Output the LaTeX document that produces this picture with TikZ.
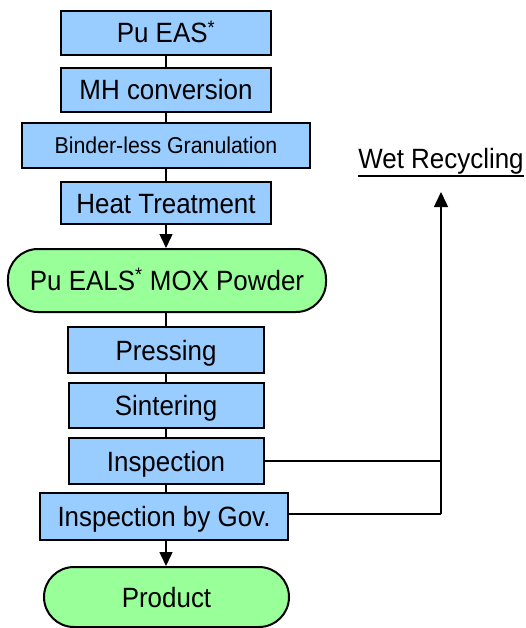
\documentclass[tikz,border=0pt]{standalone}
\usepackage{fontspec}
\setmainfont[FakeStretch=0.93]{Liberation Sans}
\usetikzlibrary{arrows.meta}
\definecolor{boxblue}{HTML}{99CCFF}
\definecolor{boxgreen}{HTML}{99FF99}
\begin{document}
\begin{tikzpicture}[x=1bp,y=-1bp,
  procbox/.style={draw=black,line width=2bp,fill=boxblue,inner sep=0pt,
    font=\fontsize{28}{30}\selectfont,text height=20bp,text depth=0pt},
  termbox/.style={draw=black,line width=2bp,fill=boxgreen,inner sep=0pt,
    rounded corners=30bp,font=\fontsize{28}{30}\selectfont,text height=20bp,text depth=0pt},
  flow/.style={line width=1.5bp},
  flowarrow/.style={line width=1.5bp,-{Triangle[width=13bp,length=14bp]}},
  fb/.style={line width=1.2bp},
  fbarrow/.style={line width=1.5bp,-{Triangle[width=14bp,length=15bp]}}]
\useasboundingbox (0,0) rectangle (526,628);
\node[procbox,minimum width=209bp,minimum height=44bp] (eas) at (166,33) {Pu EAS\textsuperscript{*}};
\node[procbox,minimum width=209bp,minimum height=44bp] (mh) at (166,90) {MH conversion};
\node[procbox,minimum width=287bp,minimum height=45bp,font=\fontsize{23}{25}\selectfont,text height=16.5bp] (bind) at (166,145.5) {Binder-less Granulation};
\node[procbox,minimum width=209bp,minimum height=42bp] (heat) at (166,203) {Heat Treatment};
\node[termbox,minimum width=318bp,minimum height=63bp] (powder) at (167,280.5) {Pu EALS\textsuperscript{*} MOX Powder};
\node[procbox,minimum width=196bp,minimum height=46bp] (press) at (166,350) {Pressing};
\node[procbox,minimum width=195bp,minimum height=45bp] (sint) at (166,405.5) {Sintering};
\node[procbox,minimum width=195bp,minimum height=46bp] (insp) at (166,461) {Inspection};
\node[procbox,minimum width=248bp,minimum height=47bp] (gov) at (164,516.5) {Inspection by Gov.};
\node[termbox,minimum width=245bp,minimum height=60bp] (prod) at (166.5,597) {Product};
\node[anchor=base,inner xsep=0pt,inner ysep=1.5bp,font=\fontsize{28}{30}\selectfont] (wet) at (441,169) {Wet Recycling};
\draw[line width=2bp] (wet.south west) -- (wet.south east);
\coordinate (wetin) at (441,192);
\coordinate (corner) at (441,514);
\draw[flow] (eas.south -| 166,0) -- (mh.north -| 166,0);
\draw[flow] (mh.south -| 166,0) -- (bind.north -| 166,0);
\draw[flow] (bind.south -| 166,0) -- (heat.north -| 166,0);
\draw[flowarrow] (heat.south -| 166,0) -- (powder.north -| 166,0);
\draw[flow] (powder.south -| 166,0) -- (press.north -| 166,0);
\draw[flow] (press.south -| 166,0) -- (sint.north -| 166,0);
\draw[flow] (sint.south -| 166,0) -- (insp.north -| 166,0);
\draw[flow] (insp.south -| 166,0) -- (gov.north -| 166,0);
\draw[flowarrow] (gov.south -| 166,0) -- (prod.north -| 166,0);
\draw[fb] (insp.east) -- (insp.east -| corner);
\draw[fb] (gov.east |- corner) -- (corner);
\draw[fbarrow] (corner) -- (wetin);
\end{tikzpicture}
\end{document}
